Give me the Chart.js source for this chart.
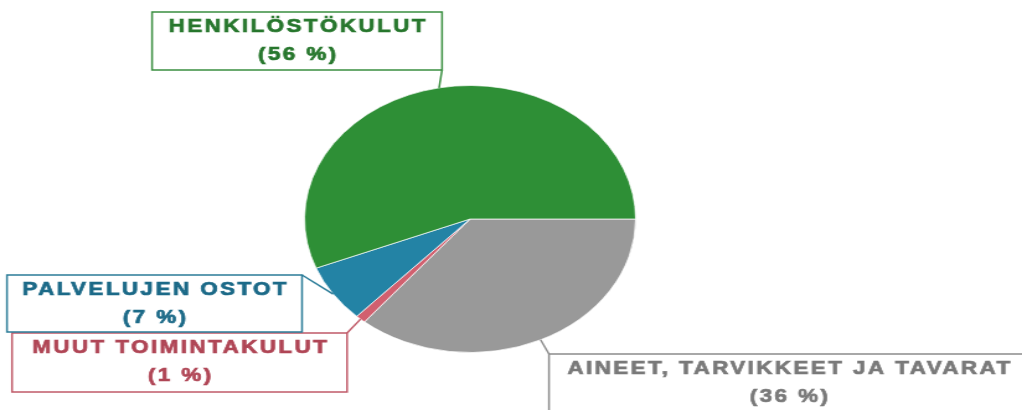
<!DOCTYPE html>
<html>
<head>
<meta charset="utf-8">
<script src="https://cdn.jsdelivr.net/npm/chart.js"></script>
<style>
  html, body { margin: 0; padding: 0; background: #fff; overflow: hidden; }
  #wrap {
    position: absolute; left: 0; top: 0;
    width: 824px; height: 410px;
    transform: scaleX(1.2403); transform-origin: 0 0;
  }
</style>
</head>
<body>
<div id="wrap"><canvas id="myChart"></canvas></div>
<script>
const categories = ["AINEET, TARVIKKEET JA TAVARAT", "MUUT TOIMINTAKULUT", "PALVELUJEN OSTOT", "HENKILÖSTÖKULUT"];
const shares = [36, 1, 7, 56];
const sliceColors = ["#999999", "#d1606f", "#2383a5", "#2e8f36"];
const textColors = ["#7a7a7a", "#b04656", "#1c6a88", "#27772d"];
const borderColors = ["#8c8c8c", "#c05a68", "#2b7c98", "#3a8f40"];

// label boxes: left, top, right, bottom and the corner the leader line meets
const labelBoxes = [
  { l: 442.6, t: 354, r: 830, b: 416, cx: 442.6, cy: 354 },
  { l: 9.7, t: 333, r: 279.8, b: 392, cx: 279.8, cy: 333 },
  { l: 5.6, t: 275, r: 243.5, b: 332, cx: 243.5, cy: 275 },
  { l: 122.6, t: 12, r: 356.4, b: 70, cx: 356.4, cy: 70 }
];

const labelPlugin = {
  id: "labelBoxes",
  afterDatasetsDraw(chart) {
    const ctx = chart.ctx;
    const arcs = chart.getDatasetMeta(0).data;
    ctx.save();
    arcs.forEach(function(arc, i) {
      const box = labelBoxes[i];
      const mid = (arc.startAngle + arc.endAngle) / 2;
      const px = arc.x + Math.cos(mid) * arc.outerRadius;
      const py = arc.y + Math.sin(mid) * arc.outerRadius;

      ctx.strokeStyle = borderColors[i];
      ctx.lineWidth = 1.5;
      ctx.beginPath();
      ctx.moveTo(px, py);
      ctx.lineTo(box.cx, box.cy);
      ctx.stroke();

      ctx.fillStyle = "#ffffff";
      ctx.fillRect(box.l, box.t, box.r - box.l, box.b - box.t);
      ctx.strokeRect(box.l, box.t, box.r - box.l, box.b - box.t);

      let center = (box.l + box.r) / 2;
      if (i === 0) center = 636;
      ctx.fillStyle = textColors[i];
      ctx.strokeStyle = textColors[i];
      ctx.lineWidth = 0.7;
      ctx.font = "bold 18px 'Liberation Sans', Arial, sans-serif";
      ctx.letterSpacing = "2px";
      ctx.textAlign = "center";
      ctx.textBaseline = "middle";
      const lines = [categories[i], "(" + shares[i] + " %)"];
      lines.forEach(function(txt, k) {
        const y = box.t + (k === 0 ? 15.5 : 43);
        ctx.fillText(txt, center + 1, y);
        ctx.strokeText(txt, center + 1, y);
      });
    });
    ctx.restore();
  }
};

new Chart("myChart", {
  type: "pie",
  data: {
    labels: categories,
    datasets: [
      {
        data: shares,
        backgroundColor: sliceColors,
        borderColor: "rgba(255,255,255,0.7)",
        borderWidth: 1,
        hoverOffset: 0
      }
    ]
  },
  options: {
    responsive: true,
    maintainAspectRatio: false,
    animation: false,
    rotation: 90,
    layout: { padding: { left: 245, right: 311, top: 85, bottom: 57 } },
    plugins: {
      legend: { display: false },
      tooltip: { enabled: false }
    }
  },
  plugins: [labelPlugin]
});
</script>
</body>
</html>
